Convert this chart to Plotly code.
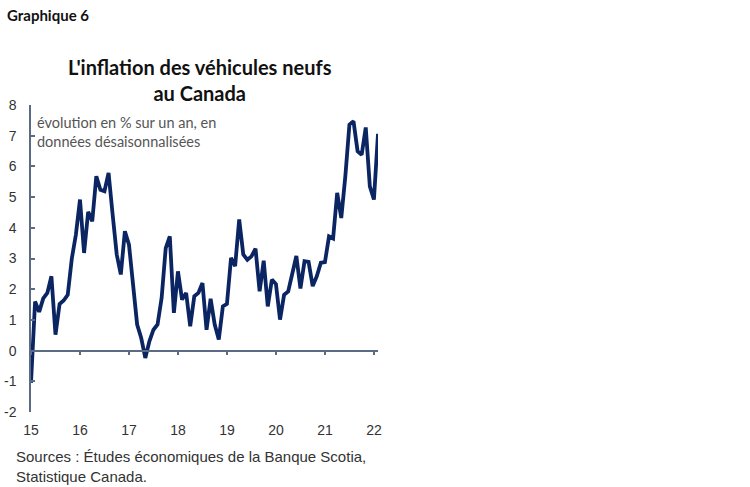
import plotly.graph_objects as go

# Monthly y/y % change, Jan 2015 .. Feb 2022
values = [
    -1.05, 1.60, 1.26, 1.70, 1.88, 2.42, 0.52, 1.52, 1.63, 1.82, 3.00, 3.78,
    4.92, 3.18, 4.52, 4.21, 5.68, 5.24, 5.19, 5.79, 4.43, 3.13, 2.48, 3.89,
    3.45, 2.15, 0.85, 0.41, -0.24, 0.30, 0.68, 0.85, 1.72, 3.34, 3.72, 1.23,
    2.58, 1.66, 1.88, 0.79, 1.77, 1.88, 2.20, 0.68, 1.69, 0.85, 0.36, 1.44,
    1.52, 3.02, 2.75, 4.27, 3.13, 2.96, 3.07, 3.32, 1.93, 2.93, 1.44, 2.31,
    2.17, 1.01, 1.82, 1.93, 2.53, 3.08, 2.02, 2.91, 2.89, 2.10, 2.42, 2.86,
    2.88, 3.72, 3.65, 5.14, 4.32, 5.68, 7.36, 7.47, 6.49, 6.38, 7.27, 5.35,
    4.92, 7.06,
]
start_year = 15
x_vals = [start_year + i / 12 for i in range(len(values))]
year_ticks = [15, 16, 17, 18, 19, 20, 21, 22]
year_labels = ["15", "16", "17", "18", "19", "20", "21", "22"]
y_ticks = [-2, -1, 0, 1, 2, 3, 4, 5, 6, 7, 8]
y_labels = ["-2", "-1", "0", "1", "2", "3", "4", "5", "6", "7", "8"]

axis_color = "#5b6b86"
line_color = "#0b2563"
xr = [15, x_vals[-1]]

fig = go.Figure()
fig.add_trace(go.Scatter(x=x_vals, y=values, mode="lines",
                         line=dict(color=line_color, width=3.8),
                         hoverinfo="skip", showlegend=False))
# axis at zero
fig.add_trace(go.Scatter(x=[xr[0]], y=[None], xaxis="x2", yaxis="y",
                         showlegend=False, hoverinfo="skip"))

fig.update_layout(
    width=750, height=487,
    paper_bgcolor="white", plot_bgcolor="white",
    margin=dict(l=31, r=372, t=105, b=75, autoexpand=False),
    font=dict(family="Liberation Sans, Arial", size=14, color="#333333"),
    xaxis=dict(range=xr, tickvals=year_ticks, ticktext=year_labels,
               showgrid=False, zeroline=False, showline=False, ticks="",
               automargin=False,
               ticklabelstandoff=8, tickfont=dict(size=14, color="#333333")),
    xaxis2=dict(range=xr, overlaying="x", anchor="free", position=0.2,
                tickvals=year_ticks, showticklabels=False, showgrid=False,
                zeroline=False, showline=True, linecolor=axis_color, linewidth=1.5,
                automargin=False,
                ticks="outside", ticklen=4, tickwidth=1.5, tickcolor=axis_color),
    yaxis=dict(range=[-2, 8], tickvals=y_ticks, ticktext=y_labels,
               showgrid=False, zeroline=False, automargin=False,
               showline=True, linecolor=axis_color, linewidth=1.5,
               ticks="inside", ticklen=4, tickwidth=1.5, tickcolor=axis_color,
               ticklabelstandoff=10, tickfont=dict(size=14, color="#333333")),
    annotations=[
        dict(text="<b>Graphique 6</b>", xref="paper", yref="paper",
             x=-26/347, y=1 + (105 - 15) / 307, xanchor="left", yanchor="middle",
             showarrow=False, font=dict(family="Lato, Open Sans", size=15, color="#111111")),
        dict(text="<b>L'inflation des véhicules neufs<br>au Canada</b>",
             xref="paper", yref="paper", x=(200 - 31) / 347, y=1 + (105 - 80) / 307,
             xanchor="center", yanchor="middle", showarrow=False, align="center",
             font=dict(family="Lato, Open Sans", size=20, color="#111111")),
        dict(text="évolution en % sur un an, en<br>données désaisonnalisées",
             xref="paper", yref="paper", x=(35 - 31) / 347, y=1 - (132 - 105) / 307,
             xanchor="left", yanchor="middle", showarrow=False, align="left",
             font=dict(family="Lato, Open Sans", size=14.5, color="#555555")),
        dict(text="Sources : Études économiques de la Banque Scotia,<br>Statistique Canada.",
             xref="paper", yref="paper", x=(14 - 31) / 347, y=-(466 - 412) / 307,
             xanchor="left", yanchor="middle", showarrow=False, align="left",
             font=dict(family="Liberation Sans, Arial", size=15, color="#333333")),
    ],
)

fig.write_html("out.html", config={"displayModeBar": False},
               post_script="document.body.style.margin='0px';document.body.style.padding='0px';")
